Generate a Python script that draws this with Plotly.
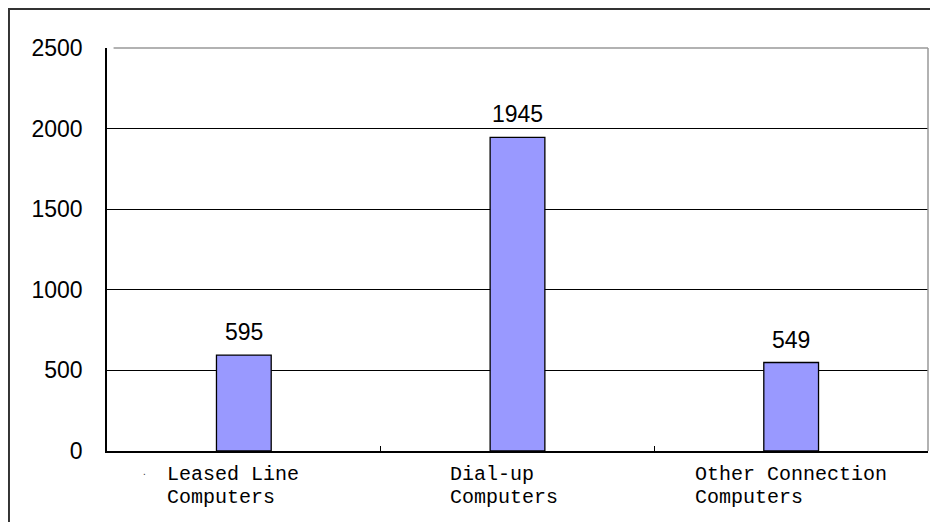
import plotly.graph_objects as go

categories = ["Leased Line<br>Computers", "Dial-up<br>Computers", "Other Connection<br>Computers"]
values = [595, 1945, 549]
y_ticks = [0, 500, 1000, 1500, 2000, 2500]
label_shift = [-79, -70, -98]

fig = go.Figure()
fig.add_trace(go.Bar(
    x=list(range(len(values))), y=values,
    width=0.2,
    marker=dict(color="#9999FF", line=dict(color="#000000", width=1.3)),
    cliponaxis=False,
))

for i, v in enumerate(values):
    fig.add_annotation(x=i, y=v, xref="x", yref="y", text=str(v), showarrow=False,
                       xanchor="center", yanchor="bottom", yshift=8,
                       font=dict(family="Liberation Sans, Arial, sans-serif", size=23, color="#000000"))

mono = dict(family="Liberation Mono, Courier New, monospace", size=20, color="#000000")
for i, c in enumerate(categories):
    for j, line in enumerate(c.split("<br>")):
        fig.add_annotation(x=i, y=0, xref="x", yref="y", text=line, showarrow=False,
                           xanchor="left", yanchor="top",
                           xshift=label_shift[i], yshift=-10 - 23 * j, font=mono)

# small stray dot seen in the original
fig.add_annotation(x=0.0414, y=-0.07, xref="paper", yref="paper", text=".", showarrow=False,
                   font=dict(family="Liberation Sans, Arial, sans-serif", size=10, color="#333333"))

fig.update_layout(
    width=938, height=522,
    margin=dict(l=99, r=18, t=40, b=79),
    paper_bgcolor="white", plot_bgcolor="white",
    showlegend=False,
    xaxis=dict(range=[-0.5, 2.5], tickvals=[-0.5, 0.5, 1.5, 2.5], ticktext=["", "", "", ""],
               ticks="inside", ticklen=5, tickcolor="#000000", tickwidth=1.3,
               showline=True, linecolor="#000000", linewidth=1.5, showgrid=False, zeroline=False),
    yaxis=dict(range=[0, 2500], tickvals=y_ticks, ticks="inside", ticklen=7, tickcolor="#000000",
               showline=True, linecolor="#000000", linewidth=1.5,
               showgrid=True, gridcolor="#000000", gridwidth=1, zeroline=False,
               ticklabelstandoff=18,
               tickfont=dict(family="Liberation Sans, Arial, sans-serif", size=23, color="#000000")),
)

# top and right plot border (gray)
fig.add_shape(type="line", xref="paper", yref="paper", x0=0.008, x1=1, y0=1, y1=1,
              line=dict(color="#999999", width=1.5), layer="above")
fig.add_shape(type="line", xref="paper", yref="paper", x0=1, x1=1, y0=0, y1=1,
              line=dict(color="#999999", width=1.5), layer="above")
# outer frame
fig.add_shape(type="rect", xref="paper", yref="paper", x0=-0.1194, x1=1.2, y0=-0.5, y1=1.0968,
              line=dict(color="#333333", width=2), layer="above")

fig.write_html("out.html")
